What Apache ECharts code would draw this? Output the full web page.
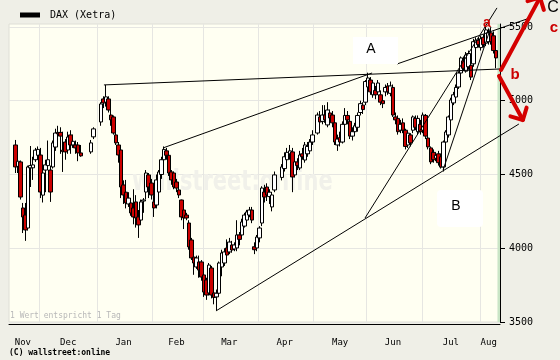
<!DOCTYPE html>
<html><head><meta charset="utf-8">
<script src="https://cdn.jsdelivr.net/npm/echarts@6/dist/echarts.min.js"></script>
<style>html,body{margin:0;padding:0;background:#efefe7}#c{width:560px;height:360px}</style>
</head><body><div id="c"></div>
<script>
// ---- categories (weekdays, Xetra) ----
const dates = [
'2008-11-13','2008-11-14','2008-11-17','2008-11-18','2008-11-19','2008-11-20','2008-11-21','2008-11-24','2008-11-25','2008-11-26','2008-11-27','2008-11-28',
'2008-12-01','2008-12-02','2008-12-03','2008-12-04','2008-12-05','2008-12-08','2008-12-09','2008-12-10','2008-12-11','2008-12-12','2008-12-15','2008-12-16','2008-12-17','2008-12-18','2008-12-19','2008-12-22','2008-12-23','2008-12-24','2008-12-25','2008-12-26','2008-12-29','2008-12-30','2008-12-31',
'2009-01-01','2009-01-02','2009-01-05','2009-01-06','2009-01-07','2009-01-08','2009-01-09','2009-01-12','2009-01-13','2009-01-14','2009-01-15','2009-01-16','2009-01-19','2009-01-20','2009-01-21','2009-01-22','2009-01-23','2009-01-26','2009-01-27','2009-01-28','2009-01-29','2009-01-30',
'2009-02-02','2009-02-03','2009-02-04','2009-02-05','2009-02-06','2009-02-09','2009-02-10','2009-02-11','2009-02-12','2009-02-13','2009-02-16','2009-02-17','2009-02-18','2009-02-19','2009-02-20','2009-02-23','2009-02-24','2009-02-25','2009-02-26','2009-02-27',
'2009-03-02','2009-03-03','2009-03-04','2009-03-05','2009-03-06','2009-03-09','2009-03-10','2009-03-11','2009-03-12','2009-03-13','2009-03-16','2009-03-17','2009-03-18','2009-03-19','2009-03-20','2009-03-23','2009-03-24','2009-03-25','2009-03-26','2009-03-27','2009-03-30','2009-03-31',
'2009-04-01','2009-04-02','2009-04-03','2009-04-06','2009-04-07','2009-04-08','2009-04-09','2009-04-10','2009-04-13','2009-04-14','2009-04-15','2009-04-16','2009-04-17','2009-04-20','2009-04-21','2009-04-22','2009-04-23','2009-04-24','2009-04-27','2009-04-28','2009-04-29','2009-04-30',
'2009-05-01','2009-05-04','2009-05-05','2009-05-06','2009-05-07','2009-05-08','2009-05-11','2009-05-12','2009-05-13','2009-05-14','2009-05-15','2009-05-18','2009-05-19','2009-05-20','2009-05-21','2009-05-22','2009-05-25','2009-05-26','2009-05-27','2009-05-28','2009-05-29',
'2009-06-01','2009-06-02','2009-06-03','2009-06-04','2009-06-05','2009-06-08','2009-06-09','2009-06-10','2009-06-11','2009-06-12','2009-06-15','2009-06-16','2009-06-17','2009-06-18','2009-06-19','2009-06-22','2009-06-23','2009-06-24','2009-06-25','2009-06-26','2009-06-29','2009-06-30',
'2009-07-01','2009-07-02','2009-07-03','2009-07-06','2009-07-07','2009-07-08','2009-07-09','2009-07-10','2009-07-13','2009-07-14','2009-07-15','2009-07-16','2009-07-17','2009-07-20','2009-07-21','2009-07-22','2009-07-23','2009-07-24','2009-07-27','2009-07-28','2009-07-29','2009-07-30','2009-07-31',
'2009-08-03','2009-08-04','2009-08-05','2009-08-06','2009-08-07','2009-08-10','2009-08-11','2009-08-12'
];
const monthNames = ['Jan','Feb','Mar','Apr','May','Jun','Jul','Aug','Sep','Oct','Nov','Dec'];
const yTicks = [3500, 4000, 4500, 5000, 5500];

// ---- DAX daily values ----
const open = [
null,null,4700,4555,4585,4273,4225,4137,4545,4545,
4600,4630,4632,4360,4530,4560,4530,4551,4686,4785,
4785,4665,4720,4666,4768,4700,4700,4700,4646,null,
null,null,4653,4755,null,null,4856,5012,4990,5012,
4903,4890,4768,4700,4666,4429,4380,4300,4307,4273,
4314,4212,4191,4320,4381,4497,4442,4314,4293,4381,
4500,4600,4660,4630,4517,4510,4449,4395,4327,4259,
4225,4171,4056,3940,3873,3907,3907,3819,3785,3697,
3866,3697,3670,3695,3873,3900,4002,3975,4022,3995,
4002,4090,4090,4150,4191,4225,4259,4010,4002,4070,
4171,4381,4415,4350,4280,4395,null,null,4480,4540,
4600,4640,4653,4497,4585,4544,4640,4598,4640,4660,
4720,null,4781,4890,4860,4903,4836,4917,4903,4850,
4700,4750,4720,4840,4900,4860,4760,4790,4820,4920,
4970,4990,5093,5140,5040,5070,5060,5040,5000,5060,
5100,5050,5090,4890,4880,4800,4850,4800,4700,4768,
4800,4880,4790,4840,4800,4900,4747,4680,4650,4610,
4640,4620,4551,4720,4768,4870,4985,5025,5093,5188,
5270,5200,5230,5240,5250,5360,5410,5360,5430,5390,
5400,5460,5440,5340,null];
const close = [
null,null,4551,4590,4347,4212,4124,4551,4560,4565,
4665,4670,4381,4510,4565,4600,4381,4714,4781,4775,
4760,4655,4653,4754,4700,4725,4680,4646,4626,null,
null,null,4714,4809,null,null,4978,4985,5026,4937,
4870,4781,4714,4632,4415,4361,4307,4340,4239,4212,
4205,4158,4314,4327,4510,4415,4361,4273,4463,4517,
4600,4670,4630,4510,4463,4415,4408,4361,4212,4205,
4205,4009,3934,3900,3934,3852,3805,3703,3683,3886,
3683,3666,3695,3900,3968,3975,3954,4042,3988,4022,
4090,4060,4178,4225,4246,4259,4191,3990,4076,4137,
4408,4347,4361,4380,4361,4497,null,null,4551,4620,
4650,4660,4483,4585,4560,4632,4620,4700,4690,4720,
4768,null,4903,4856,4903,4870,4937,4883,4850,4720,
4740,4720,4840,4900,4870,4760,4790,4830,4900,4980,
4940,5130,5154,5060,5120,5040,5120,4990,4980,5090,
5060,5100,4903,4870,4790,4840,4800,4690,4780,4714,
4890,4820,4880,4790,4903,4760,4687,4585,4600,4630,
4580,4550,4720,4788,4890,5005,5040,5090,5188,5290,
5220,5310,5320,5160,5400,5410,5380,5420,5380,5480,
5460,5400,5340,5290,null];
const low = [
null,null,4510,4510,4330,4103,4050,4120,4415,4463,
4585,4600,4340,4310,4380,4530,4314,4540,4660,4700,
4640,4517,4600,4640,4640,4680,4640,4590,4620,null,
null,null,4640,4740,null,null,4830,4950,4960,4920,
4830,4770,4700,4580,4340,4300,4270,4280,4220,4162,
4140,4070,4170,4240,4330,4340,4330,4212,4270,4370,
4470,4580,4600,4490,4430,4400,4380,4340,4190,4130,
4190,3990,3920,3820,3860,3800,3780,3670,3650,3680,
3660,3620,3580,3683,3810,3880,3940,3960,3970,3980,
3980,4020,4080,4140,4170,4210,4170,3960,3980,4040,
4150,4310,4320,4300,4250,4380,null,null,4460,4520,
4580,4600,4380,4480,4530,4530,4600,4580,4620,4640,
4700,null,4770,4830,4840,4850,4820,4840,4820,4700,
4660,4690,4710,4820,4840,4740,4730,4770,4790,4900,
4910,4970,5080,5040,5020,5010,5040,4970,4950,5030,
5040,5030,4890,4840,4770,4780,4780,4670,4680,4690,
4780,4800,4770,4770,4780,4740,4670,4570,4580,4590,
4560,4540,4520,4700,4750,4860,4970,5010,5080,5170,
5200,5190,5210,5140,5230,5340,5360,5340,5360,5370,
5380,5380,5320,5220,null];
const high = [
null,null,4734,4612,4595,4307,4307,4560,4693,4620,
4680,4690,4680,4525,4600,4730,4560,4730,4810,4830,
4820,4790,4740,4790,4800,4770,4730,4720,4700,null,
null,null,4734,4820,null,null,4990,5030,5107,5030,
4940,4900,4790,4720,4680,4460,4463,4380,4340,4400,
4360,4259,4330,4340,4530,4510,4470,4360,4500,4530,
4620,4690,4680,4650,4530,4520,4470,4420,4330,4270,
4240,4190,4070,3990,3950,3950,3920,3840,3800,3900,
3880,3730,3720,3910,3990,4000,4060,4070,4050,4040,
4190,4110,4200,4240,4260,4280,4280,4040,4090,4150,
4420,4430,4440,4400,4380,4520,null,null,4570,4650,
4680,4700,4680,4600,4610,4660,4680,4720,4720,4740,
4800,null,4920,4930,4970,4970,4990,4940,4930,4860,
4770,4790,4860,4950,4930,4870,4820,4850,4920,5000,
4990,5140,5190,5160,5140,5100,5140,5070,5030,5110,
5120,5130,5110,4920,4900,4870,4880,4810,4790,4780,
4900,4900,4900,4870,4920,4910,4770,4690,4670,4650,
4660,4640,4730,4800,4900,5020,5060,5110,5200,5300,
5300,5330,5340,5260,5420,5430,5430,5440,5450,5500,
5490,5490,5470,5350,null];

// highlighted (current) day band
const bandDate = '2009-08-12';

// ---- annotations in data space: [category index, index value] ----
const trendLines = [
  [[37.2, 5107], [194.5, 5215]],
  [[60.7, 4680], [143.7, 5188]],
  [[153.6, 5249], [206.4, 5561]],
  [[81.7, 3575], [202.0, 4842]],
  [[140.9, 4205], [193.3, 5629]],
  [[171.9, 4530], [190.9, 5500]]
];
const arrows = [
  [[194.9, 5208], [210.4, 5700]],
  [[194.1, 5168], [203.6, 4869]]
];

const candleData = dates.map((d, i) => open[i] == null ? '-' : [open[i], close[i], low[i], high[i]]);
const bandData = dates.map(d => d === bandDate ? 5520 : '-');

// month ticks / labels derived from the dates
const monthStart = new Set();
const monthLabel = new Set();
let segStart = 0;
for (let i = 1; i <= dates.length; i++) {
  if (i === dates.length || dates[i].slice(5, 7) !== dates[i - 1].slice(5, 7)) {
    monthLabel.add(Math.floor((segStart + i - 1) / 2));
    if (i < dates.length) monthStart.add(i);
    segStart = i;
  }
}

const chart = echarts.init(document.getElementById('c'), null, {renderer: 'canvas', width: 560, height: 360});
const mono = 'DejaVu Sans Mono';
chart.setOption({
  animation: false,
  backgroundColor: '#efefe7',
  legend: {
    left: 20, top: 10, padding: 0, itemWidth: 20, itemHeight: 5, icon: 'rect', selectedMode: false,
    data: [{name: 'DAX (Xetra)', itemStyle: {color: '#000', borderWidth: 0}}],
    textStyle: {fontFamily: mono, fontSize: 10, color: '#000', padding: [0, 0, 0, 5]}
  },
  grid: {left: 9, top: 24, width: 491, height: 298, show: true, backgroundColor: '#fffff2', borderColor: '#deded6', borderWidth: 1},
  xAxis: {
    type: 'category', data: dates, boundaryGap: true, offset: 2,
    axisLine: {lineStyle: {color: '#000', width: 1}},
    axisTick: {interval: (i) => monthStart.has(i), length: 5, lineStyle: {color: '#000'}},
    axisLabel: {interval: (i) => monthLabel.has(i), formatter: (v) => monthNames[parseInt(v.slice(5, 7), 10) - 1],
      fontFamily: mono, fontSize: 9, color: '#000', margin: 14},
    splitLine: {show: true, interval: (i) => monthStart.has(i), lineStyle: {color: '#e6e6e2', width: 1}}
  },
  yAxis: {
    type: 'value', position: 'right', min: 3500, max: 5520, interval: 500, scale: true,
    axisLine: {show: true, lineStyle: {color: '#000'}},
    axisTick: {show: true, length: 5, customValues: yTicks, lineStyle: {color: '#000'}},
    axisLabel: {customValues: yTicks, formatter: (v) => String(v), fontFamily: mono, fontSize: 10, color: '#000', margin: 9},
    splitLine: {show: true, lineStyle: {color: '#e6e6e2', width: 1}}
  },
  series: [
    {name: 'band', type: 'bar', data: bandData, barWidth: '100%', itemStyle: {color: '#c9e5c6'}, z: 1, silent: true},
    {name: 'DAX (Xetra)', type: 'candlestick', data: candleData, barWidth: 4, z: 3,
      itemStyle: {color: '#ffffff', color0: '#cc0000', borderColor: '#000000', borderColor0: '#000000', borderWidth: 1}}
  ]
});

function toPx(p) {
  const i0 = Math.floor(p[0]), f = p[0] - i0;
  const a = chart.convertToPixel({xAxisIndex: 0, yAxisIndex: 0}, [i0, p[1]]);
  const b = chart.convertToPixel({xAxisIndex: 0, yAxisIndex: 0}, [i0 + 1, p[1]]);
  return [a[0] + f * (b[0] - a[0]), a[1]];
}

const g = [];
// watermark
g.push({type: 'text', z: 1, x: 132, y: 168, scaleY: 1.35, silent: true,
  style: {text: 'wallstreet:online', fill: '#f1f1ea', font: 'bold 21px "DejaVu Sans"'}});
// trend lines
trendLines.forEach(l => {
  const a = toPx(l[0]), b = toPx(l[1]);
  g.push({type: 'line', z: 20, silent: true, shape: {x1: a[0], y1: a[1], x2: b[0], y2: b[1]}, style: {stroke: '#000', lineWidth: 1}});
});
// red arrows
arrows.forEach(l => {
  const a = toPx(l[0]), b = toPx(l[1]);
  const dx = b[0] - a[0], dy = b[1] - a[1], len = Math.hypot(dx, dy);
  const ux = dx / len, uy = dy / len, L = 13, c = Math.cos(Math.PI / 4), s = Math.sin(Math.PI / 4);
  const h1 = [b[0] - L * (ux * c - uy * s), b[1] - L * (uy * c + ux * s)];
  const h2 = [b[0] - L * (ux * c + uy * s), b[1] - L * (uy * c - ux * s)];
  g.push({type: 'polyline', z: 30, silent: true, shape: {points: [a, b]}, style: {stroke: '#d40000', lineWidth: 4, lineCap: 'round'}});
  g.push({type: 'polyline', z: 30, silent: true, shape: {points: [h1, b, h2]}, style: {stroke: '#d40000', lineWidth: 4, lineCap: 'round', lineJoin: 'round', fill: null}});
});
// label boxes
g.push({type: 'rect', z: 25, silent: true, shape: {x: 353, y: 37, width: 45, height: 27}, style: {fill: '#ffffff'}});
g.push({type: 'rect', z: 25, silent: true, shape: {x: 437, y: 190, width: 46, height: 37, r: 4}, style: {fill: '#ffffff'}});
const txt = (t, x, y, font, fill) => g.push({type: 'text', z: 40, silent: true, x: x, y: y,
  style: {text: t, font: font, fill: fill, align: 'center', verticalAlign: 'middle'}});
txt('A', 371, 49, '14px "Liberation Sans"', '#000');
txt('B', 456, 206, '14px "Liberation Sans"', '#000');
txt('a', 487, 23, 'bold 14px "Liberation Sans"', '#cc0000');
txt('b', 515, 75, 'bold 15px "Liberation Sans"', '#cc0000');
txt('c', 554, 28, 'bold 15px "Liberation Sans"', '#cc0000');
txt('C', 553, 8, '16px "Liberation Sans"', '#000');
g.push({type: 'text', z: 40, silent: true, left: 10, top: 312, style: {text: '1 Wert entspricht 1 Tag', font: '8px "DejaVu Sans Mono"', fill: '#b8b8b8'}});
g.push({type: 'text', z: 40, silent: true, left: 9, top: 349, style: {text: '(C) wallstreet:online', font: 'bold 8px "DejaVu Sans Mono"', fill: '#000'}});
chart.setOption({graphic: g});
</script></body></html>
